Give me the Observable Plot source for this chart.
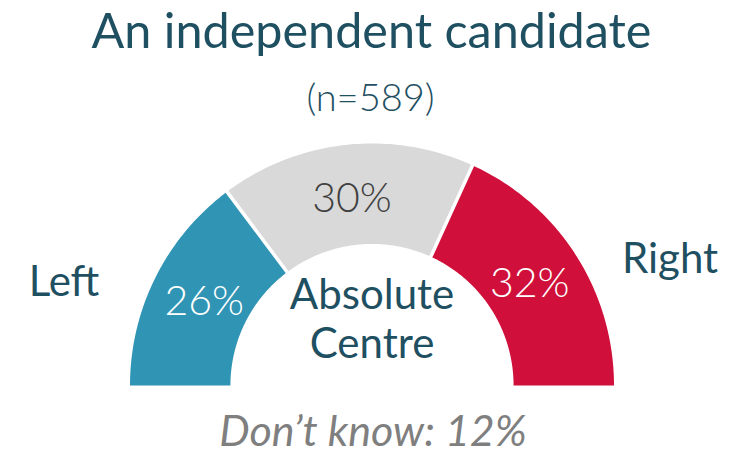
<!DOCTYPE html>
<html>
<head>
<meta charset="utf-8">
<script src="https://cdn.jsdelivr.net/npm/d3@7"></script>
<script src="https://cdn.jsdelivr.net/npm/@observablehq/plot@0.6"></script>
<style>
  body { margin: 0; background: #ffffff; }
  #chart svg { display: block; }
</style>
</head>
<body>
<div id="chart"></div>
<script>
// ---- Data ----
const title = "An independent candidate";
const sampleLabel = "(n=589)";
const categories = ["Left", "Absolute Centre", "Right"];
const values = [26, 30, 32];
const dontKnowLabel = "Don’t know";
const dontKnowValue = 12;

// ---- Styles ----
const segColors = ["#3094b4", "#d9d9d9", "#d0103a"];
const pctColors = ["#ffffff", "#404040", "#ffffff"];
const navy = "#1f5061";
const font = "Lato, 'Open Sans', sans-serif";

// ---- Geometry (unit radius gauge, angles from data) ----
const PX = 242;                 // pixels per unit radius
const CX = 371.5, CY = 385;     // gauge centre in the frame
const R1 = 1, R0 = 0.585;
const W = 744, H = 454;
const ux = p => (p - CX) / PX;  // frame px -> unit x (for text placement)
const uy = p => (CY - p) / PX;  // frame px -> unit y

const total = d3.sum(values);
let acc = 0;
const segs = categories.map((cat, i) => {
  const a0 = Math.PI * (1 - acc / total);
  acc += values[i];
  const a1 = Math.PI * (1 - acc / total);
  return {cat, value: values[i], a0, a1, color: pctColors[i]};
});

const pts = [];
segs.forEach(s => {
  const n = 90;
  for (let k = 0; k <= n; k++) {
    const a = s.a0 + (s.a1 - s.a0) * k / n;
    pts.push({cat: s.cat, x: R1 * Math.cos(a), y: R1 * Math.sin(a)});
  }
  for (let k = n; k >= 0; k--) {
    const a = s.a0 + (s.a1 - s.a0) * k / n;
    pts.push({cat: s.cat, x: R0 * Math.cos(a), y: R0 * Math.sin(a)});
  }
  pts.push({cat: s.cat, x: R1 * Math.cos(s.a0), y: R1 * Math.sin(s.a0)});
});

const bounds = segs.slice(1).map(s => ({
  x1: (R0 - 0.02) * Math.cos(s.a0), y1: (R0 - 0.02) * Math.sin(s.a0),
  x2: (R1 + 0.02) * Math.cos(s.a0), y2: (R1 + 0.02) * Math.sin(s.a0)
}));

const rLab = 0.775;
const pctLabels = segs.map(s => {
  const m = (s.a0 + s.a1) / 2;
  return {x: rLab * Math.cos(m), y: rLab * Math.sin(m), text: `${s.value}%`, color: s.color};
});

const sideLabels = [
  {text: categories[0], x: ux(63.5), y: uy(295)},
  {text: categories[2], x: ux(669.5), y: uy(272)}
];
const centreLines = categories[1].split(" ");

const chart = Plot.plot({
  width: W,
  height: H,
  margin: 0,
  x: {domain: [ux(0), ux(W)], axis: null},
  y: {domain: [uy(H), uy(0)], axis: null},
  color: {domain: categories, range: segColors},
  style: {fontFamily: font, background: "#ffffff"},
  marks: [
    Plot.line(pts, {x: "x", y: "y", z: "cat", fill: "cat", stroke: "none"}),
    Plot.link(bounds, {x1: "x1", y1: "y1", x2: "x2", y2: "y2", stroke: "#ffffff", strokeWidth: 3.5}),
    Plot.text(pctLabels, {x: "x", y: "y", text: "text", fill: "color", fontSize: 41, fontWeight: 300, lineAnchor: "middle"}),
    Plot.text([title], {x: [ux(371)], y: [uy(47)], text: d => d, fill: navy, fontSize: 48.5, lineAnchor: "bottom"}),
    Plot.text([sampleLabel], {x: [ux(370)], y: [uy(110)], text: d => d, fill: navy, fontSize: 38, fontWeight: 300, lineAnchor: "bottom"}),
    Plot.text(sideLabels, {x: "x", y: "y", text: "text", fill: navy, fontSize: 42, lineAnchor: "bottom"}),
    Plot.text([centreLines[0]], {x: [0], y: [uy(308)], text: d => d, fill: navy, fontSize: 42, lineAnchor: "bottom"}),
    Plot.text([centreLines[1]], {x: [0], y: [uy(357)], text: d => d, fill: navy, fontSize: 42, lineAnchor: "bottom"}),
    Plot.text([`${dontKnowLabel}: ${dontKnowValue}%`], {x: [ux(372.5)], y: [uy(445)], text: d => d, fill: "#7f7f7f", fontSize: 43, fontStyle: "italic", lineAnchor: "bottom"})
  ]
});

document.getElementById("chart").append(chart);
</script>
</body>
</html>
